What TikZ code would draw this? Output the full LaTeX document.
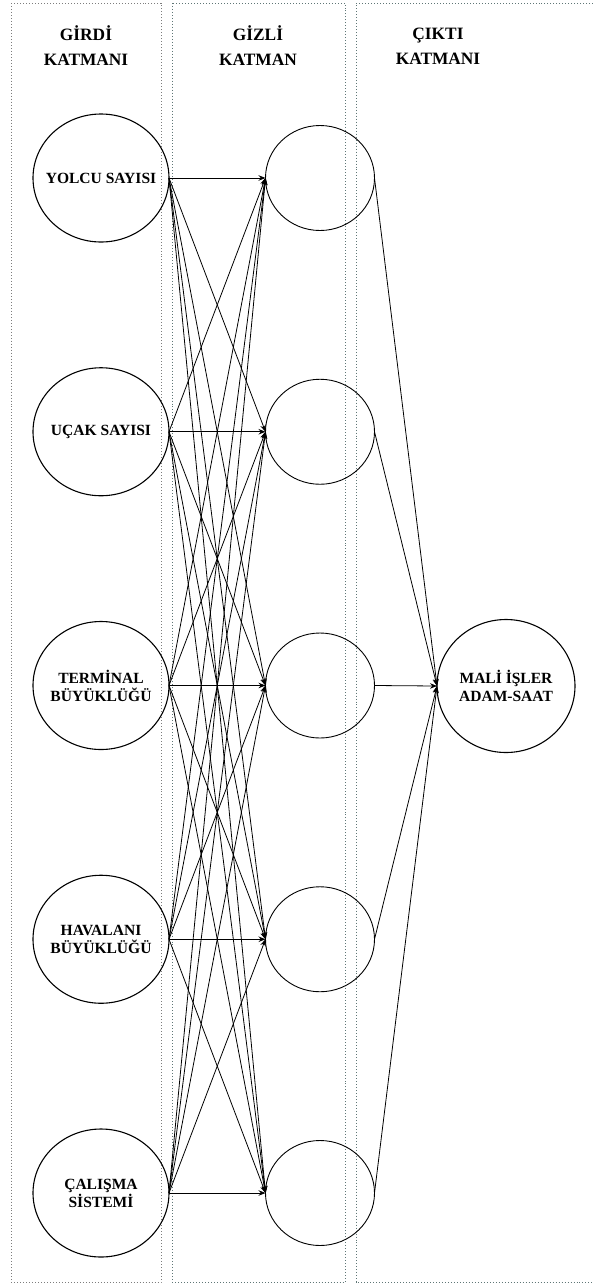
\documentclass[tikz,border=0pt]{standalone}
\usepackage{fontspec}
\setmainfont{Liberation Serif}
\usepackage{tikz}
\usetikzlibrary{shapes.geometric, arrows.meta, positioning}

\definecolor{dotgray}{RGB}{125,125,125}
\definecolor{dotteal}{RGB}{95,118,118}

\tikzset{
  layer/.style={draw=dotgray, line width=0.7pt, dash pattern=on 0.7pt off 2.3pt},
  title/.style={align=center, font=\fontsize{17.4}{25}\selectfont\bfseries, inner sep=0pt},
  inp/.style={draw, ellipse, line width=1.1pt, minimum width=136bp, minimum height=128bp, inner xsep=-10bp, inner ysep=0pt, outer sep=0pt, align=center, font=\fontsize{15.6}{18}\selectfont\bfseries},
  hid/.style={draw, ellipse, line width=0.9pt, minimum width=109bp, minimum height=105bp, outer sep=0pt},
  outp/.style={inp, minimum width=138bp, minimum height=133bp},
  link/.style={-{Stealth[length=7pt, width=5.5pt]}, line width=0.8pt}
}

\begin{document}
\begin{tikzpicture}[x=1bp, y=-1bp]
        \useasboundingbox (0,0) rectangle (593,1283);

        % layers
        \draw[layer] (11,3) rectangle (161,1282);
        \draw[layer, draw=dotteal] (172,3) rectangle (345,1282);
        \draw[layer, draw=dotteal] (593,3) -| (356,1282) -- (593,1282);

        \node[title] (tin) at (86,46) {GİRDİ\\KATMANI};
        \node[title] (thid) at (258,46) {GİZLİ\\KATMAN};
        \node[title] (tout) at (438,46) {ÇIKTI\\KATMANI};

        % neurons
        \foreach \txt [count=\i] in {YOLCU SAYISI, UÇAK SAYISI, {TERMİNAL\\BÜYÜKLÜĞÜ}, {HAVALANI\\BÜYÜKLÜĞÜ}, {ÇALIŞMA\\SİSTEMİ}}
            \node[inp] (in\i) at (101,{178+253.75*(\i-1)}) {\txt};
        \foreach \i in {1,...,5}
            \node[hid] (h\i) at (320,{178+253.75*(\i-1)}) {};
        \node[outp] (out) at (506,686) {MALİ İŞLER\\ADAM-SAAT};

        % weights
        \foreach \i in {1,...,5}
            \foreach \j in {1,...,5}
                \draw[link] (in\i.east) -- (h\j.west);
        \foreach \j in {1,...,5}
            \draw[link] (h\j.east) -- (out.west);
    \end{tikzpicture}
\end{document}
